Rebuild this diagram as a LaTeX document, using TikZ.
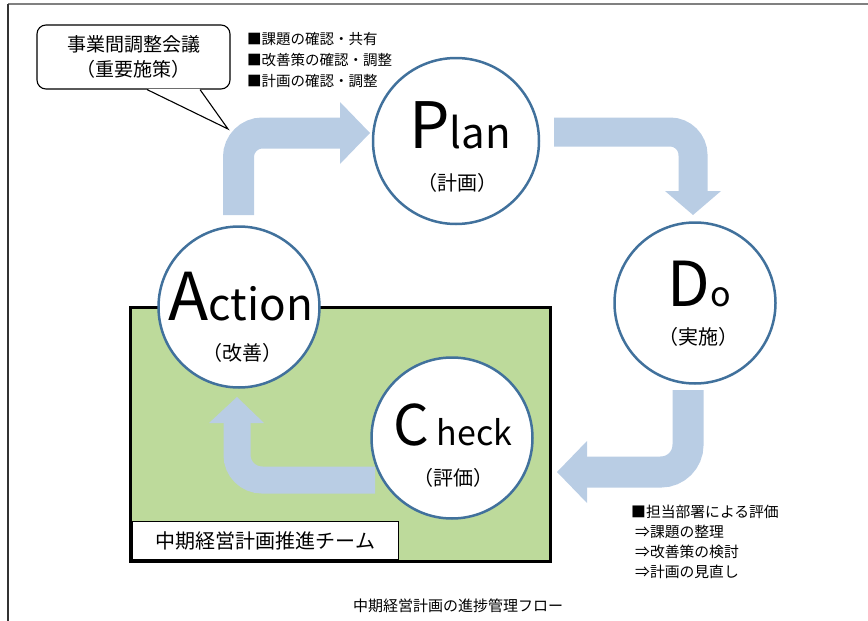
\documentclass[tikz,border=0pt]{standalone}
\usepackage{fontspec}
\setmainfont{Noto Sans CJK JP}
\usetikzlibrary{positioning}
\definecolor{flowblue}{RGB}{185,205,228}
\definecolor{ringblue}{RGB}{65,113,156}
\definecolor{teamgreen}{RGB}{189,218,155}
\newcommand{\fsz}[1]{\fontsize{#1}{#1}\selectfont}
\tikzset{
  phase/.style={circle, draw=ringblue, line width=2.5pt, fill=white, inner sep=0pt, minimum size=161pt},
  flow/.style={draw=flowblue, line width=#1},
  flow/.default=30pt,
  word/.style={anchor=base, inner sep=0pt},
  sub/.style={inner sep=0pt, font=\fsz{20}},
}

\begin{document}
\begin{tikzpicture}[x=1pt, y=-1pt]
\useasboundingbox (0,0) rectangle (868,621);
\draw[gray, line width=2pt] (8,4) -- (868,4);
\draw[black!80, line width=1.2pt] (8,4) -- (8,621);

\draw[line width=3pt, fill=teamgreen] (130.5,307.5) rectangle (550.5,561.5);
\node[draw, fill=white, line width=1pt, minimum width=266pt, minimum height=38pt, anchor=south west, font=\fsz{20}] (team) at (132,560) {中期経営計画推進チーム};

\draw[flow=31pt, rounded corners=24pt] (238.5,215) |- (341,133);
\fill[flowblue] (340,102) -- (370,133) -- (340,164) -- cycle;
\draw[flow=29pt, rounded corners=23pt] (554,132) -| (693,192);
\fill[flowblue] (665,191) -- (693,215) -- (721,191) -- cycle;
\draw[flow=31pt, rounded corners=27pt] (688,390) |- (586,472);
\fill[flowblue] (587,441) -- (557,472) -- (587,503) -- cycle;
\draw[flow=27pt, rounded corners=25pt] (375,480) -| (237,422);
\fill[flowblue] (209,423) -- (237,397) -- (264,423) -- cycle;

\node[phase, minimum size=166pt] (plan) at (456,141) {};
\node[phase] (action) at (239,307) {};
\node[phase] (do) at (695,303) {};
\node[phase] (check) at (452,438) {};

\node[word] (plan-word) at (460,148) {{\fsz{64}P}{\fsz{42}lan}};
\node[sub] (plan-sub) at (457,183) {（計画）};
\node[word] (action-word) at (241,320) {{\fsz{66}A}{\fsz{44}ction}};
\node[sub] (action-sub) at (242,353) {（改善）};
\node[word] (do-word) at (699,306) {{\fsz{62}D}{\fsz{34}o}};
\node[sub] (do-sub) at (698,337) {（実施）};
\node[word] (check-word) at (453,445) {{\fsz{56}C}{\fsz{34}\ heck}};
\node[sub] (check-sub) at (453,478) {（評価）};

\node[draw, fill=white, line width=1.1pt, rounded corners=9pt, minimum width=193pt, minimum height=64pt, align=center, font=\fontsize{19}{25}\selectfont] (bubble) at (133.5,57) {事業間調整会議\\（重要施策）};
\coordinate (bubble-tip) at (228,129);
\fill[white] ([xshift=13.5pt, yshift=0.8pt]bubble.south) -- (bubble-tip) -- ([xshift=66.5pt, yshift=0.8pt]bubble.south) -- cycle;
\draw[line width=1.1pt] ([xshift=13.5pt]bubble.south) -- (bubble-tip) -- ([xshift=66.5pt]bubble.south);

\node[anchor=west, align=left, inner sep=0pt, font=\fontsize{14.5}{21}\selectfont] (plan-notes) at (247,60) {■課題の確認・共有\\■改善策の確認・調整\\■計画の確認・調整};
\node[anchor=west, align=left, inner sep=0pt, font=\fontsize{14.8}{20}\selectfont] (check-notes) at (631,542) {■担当部署による評価\\\hspace*{4pt}⇒課題の整理\\\hspace*{4pt}⇒改善策の検討\\\hspace*{4pt}⇒計画の見直し};

\node[font=\fsz{15}] (caption) at (458,606) {中期経営計画の進捗管理フロー};
\end{tikzpicture}
\end{document}
